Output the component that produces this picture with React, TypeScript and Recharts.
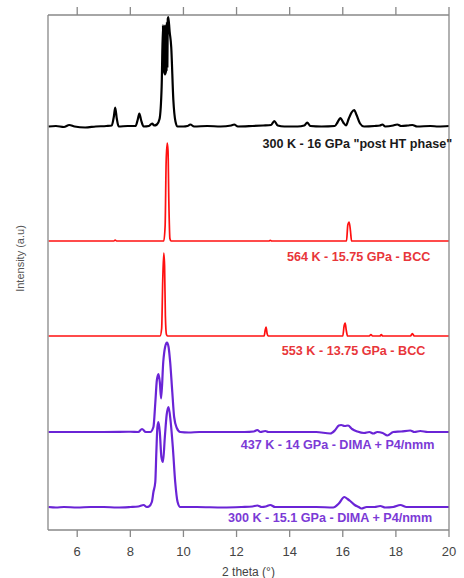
import React from "react";
import { LineChart, Line, XAxis, YAxis, ReferenceDot } from "recharts";

// 2 theta axis ticks
const twoThetaTicks = [6, 8, 10, 12, 14, 16, 18, 20];

// each trace: [2 theta (deg), intensity above its own baseline (a.u.)]
const post300K16GPa: [number, number][] = [
  [4.92, 0], [5.2, 0.1], [5.5, -0.1], [5.7, 0.3], [5.9, 0], [6.3, -0.2], [6.7, 0], [7.1, 0.1],
  [7.3, 0.2], [7.38, 2], [7.43, 3.8], [7.49, 1.6], [7.56, 0], [7.9, 0.1], [8.2, 0.1], [8.28, 1.4],
  [8.34, 2.6], [8.41, 1.2], [8.5, 0], [8.7, 0.1], [8.82, 0.6], [8.9, 0.2], [9.0, 0.4], [9.1, 1.5],
  [9.18, 8], [9.23, 20.3], [9.245, 11], [9.26, 20], [9.275, 10.5], [9.29, 20.2], [9.305, 10.3],
  [9.32, 20], [9.335, 10.5], [9.35, 20.5], [9.365, 11], [9.38, 21], [9.395, 12], [9.41, 21.5],
  [9.43, 21.9], [9.48, 19], [9.54, 15.9], [9.62, 5.3], [9.7, 1], [9.78, 0], [10.0, 0],
  [10.15, 0.1], [10.26, 0.4], [10.4, 0], [10.9, 0.1], [11.4, 0], [11.8, 0.2], [11.91, 0.4],
  [12.05, 0], [12.6, 0.1], [13.0, 0.2], [13.3, 0.3], [13.42, 1.1], [13.55, 0.2], [13.8, 0],
  [14.3, 0], [14.55, 0.2], [14.66, 0.8], [14.78, 0.1], [15.2, 0], [15.7, 0.1], [15.8, 0.8],
  [15.91, 1.7], [16.02, 0.8], [16.12, 0.2], [16.22, 1.5], [16.33, 2.8], [16.43, 3.3], [16.52, 2.3],
  [16.65, 0.6], [16.8, 0], [17.2, 0.1], [17.4, 0.2], [17.49, 0.4], [17.6, 0], [17.9, 0.2],
  [18.05, 0.4], [18.2, 0.1], [18.45, 0.2], [18.62, 0.3], [18.8, 0], [19.3, 0.1], [19.6, 0], [20, 0.1],
];

const bcc564K: [number, number][] = [
  [4.92, 0], [7.38, 0], [7.43, 0.2], [7.48, 0], [9.26, 0], [9.31, 3], [9.35, 16], [9.39, 19.6],
  [9.42, 18], [9.45, 8], [9.49, 0.5], [9.53, 0], [13.22, 0], [13.27, 0.15], [13.32, 0], [16.14, 0],
  [16.19, 3.2], [16.24, 3.8], [16.29, 2], [16.33, 0], [20, 0],
];

const bcc553K: [number, number][] = [
  [4.92, 0], [9.12, 0], [9.18, 1.5], [9.22, 11], [9.26, 16.6], [9.29, 14], [9.32, 4], [9.36, 0.3],
  [9.4, 0], [13.04, 0], [13.08, 1.2], [13.11, 1.8], [13.15, 0.5], [13.19, 0], [16.0, 0],
  [16.05, 2], [16.09, 2.6], [16.13, 1.2], [16.18, 0], [17.0, 0], [17.06, 0.3], [17.12, 0],
  [17.4, 0], [17.45, 0.3], [17.5, 0], [18.55, 0], [18.62, 0.5], [18.69, 0], [20, 0],
];

const dima437K: [number, number][] = [
  [4.92, 0], [7.0, 0], [8.0, 0.05], [8.3, 0], [8.44, 0.6], [8.58, 0], [8.75, 0], [8.87, 1],
  [8.94, 5.8], [9.0, 10.4], [9.06, 11.6], [9.11, 10], [9.16, 6.7], [9.24, 14], [9.31, 17],
  [9.38, 17.9], [9.44, 17], [9.5, 14], [9.58, 8], [9.65, 3], [9.75, 0.8], [9.88, 0], [10.2, -0.1],
  [10.6, 0], [11.2, 0], [12.3, 0], [12.65, 0.1], [12.78, 0.4], [12.9, 0], [13.08, 0.2], [13.2, 0],
  [14.0, 0], [15.0, 0], [15.53, -0.3], [15.7, 0.3], [15.85, 1.3], [15.94, 1.4], [16.07, 1.2],
  [16.2, 1.3], [16.35, 0.6], [16.55, 0.1], [16.8, -0.2], [17.0, 0], [17.15, -0.3], [17.3, 0],
  [17.5, -0.2], [17.68, -0.7], [17.9, 0], [18.2, 0.1], [18.54, 0.3], [18.7, 0], [18.92, 0.2],
  [19.2, 0], [19.6, 0], [20, 0],
];

const dima300K: [number, number][] = [
  [4.92, 0], [5.2, -0.1], [5.5, 0], [6.0, -0.1], [6.5, 0], [7.0, 0], [7.5, -0.1], [8.0, 0],
  [8.3, 0.1], [8.5, 0.4], [8.62, 0], [8.7, 0.1], [8.81, 1], [8.87, 3], [8.94, 5], [8.98, 11],
  [9.02, 16], [9.06, 17], [9.11, 15], [9.17, 10], [9.23, 9], [9.3, 14], [9.37, 18.5], [9.44, 20],
  [9.52, 17], [9.6, 12], [9.69, 5], [9.78, 1], [9.88, 0], [10.5, 0], [11.5, -0.1], [12.2, 0],
  [12.6, 0.1], [12.78, 0.3], [12.95, 0], [13.1, 0.1], [13.27, 0.4], [13.45, 0], [14.2, 0],
  [15.0, 0], [15.64, -0.1], [15.85, 0.7], [16.06, 2], [16.18, 1.6], [16.28, 1.2], [16.45, 0.4],
  [16.6, 0], [16.7, -0.3], [16.9, 0], [17.2, 0], [17.41, 0.2], [17.6, -0.1], [17.9, 0],
  [18.17, 0.4], [18.4, 0], [18.8, 0], [19.3, 0], [20, 0],
];

// stacking offsets (a.u.) and captions
const traceNames = [
  '300 K - 16 GPa "post HT phase"',
  "564 K - 15.75 GPa - BCC",
  "553 K - 13.75 GPa - BCC",
  "437 K - 14 GPa - DIMA + P4/nmm",
  "300 K - 15.1 GPa - DIMA + P4/nmm",
];
const traceOffsets = [80.7, 57.8, 38.8, 19.6, 4.6];
const traceValues = [post300K16GPa, bcc564K, bcc553K, dima437K, dima300K];

const lineColors = ["#000000", "#ff1010", "#ff1010", "#6a24d6", "#6a24d6"];
const textColors = ["#1a1a1a", "#e8363a", "#e8363a", "#7b3ad6", "#7b3ad6"];
const lineWidths = [2.2, 1.7, 1.7, 2.2, 2.2];
// caption anchor: right end of text, vertical middle
const captionPos: [number, number][] = [
  [20.12, 77.2],
  [19.3, 54.6],
  [19.11, 35.8],
  [19.45, 17],
  [19.37, 2.4],
];

const AXIS = "#888888";
const FONT = "Liberation Sans, Arial, sans-serif";

export default function App() {
  const series = traceValues.map((pts, i) =>
    pts.map(([x, y]) => ({ x, y: y + traceOffsets[i] }))
  );

  return (
    <div style={{ position: "fixed", left: 0, top: 0, background: "#fff" }}>
      <LineChart width={464} height={578} margin={{ top: 0, right: 0, bottom: 0, left: 0 }}>
        <XAxis
          dataKey="x"
          type="number"
          domain={[4.9, 20]}
          ticks={twoThetaTicks}
          allowDataOverflow
          height={48}
          stroke={AXIS}
          strokeWidth={1.3}
          tickSize={7}
          tickMargin={10}
          tick={{ fill: "#444", fontSize: 13, fontFamily: FONT }}
          label={{
            value: "2 theta (°)",
            position: "insideBottom",
            offset: 2,
            fill: "#444",
            fontSize: 12,
            fontFamily: FONT,
          }}
        />
        <XAxis
          xAxisId="top"
          orientation="top"
          dataKey="x"
          type="number"
          domain={[4.9, 20]}
          ticks={twoThetaTicks}
          allowDataOverflow
          height={15}
          stroke={AXIS}
          strokeWidth={1.3}
          tickSize={8}
          tickFormatter={() => ""}
        />
        <YAxis
          type="number"
          domain={[0, 103]}
          allowDataOverflow
          width={48}
          stroke={AXIS}
          strokeWidth={1.3}
          tick={false}
          tickLine={false}
          label={{
            value: "Intensity (a.u)",
            angle: -90,
            position: "center",
            dx: -4,
            dy: -14,
            fill: "#555",
            fontSize: 11,
            fontFamily: FONT,
          }}
        />
        <YAxis
          yAxisId="right"
          orientation="right"
          type="number"
          domain={[0, 103]}
          width={15}
          stroke={AXIS}
          strokeWidth={1.3}
          tick={false}
          tickLine={false}
        />
        {series.map((data, i) => (
          <Line
            key={traceNames[i]}
            data={data}
            dataKey="y"
            type="monotone"
            stroke={lineColors[i]}
            strokeWidth={lineWidths[i]}
            dot={false}
            activeDot={false}
            isAnimationActive={false}
          />
        ))}
        {traceNames.map((name, i) => (
          <ReferenceDot
            key={"lbl" + i}
            x={captionPos[i][0]}
            y={captionPos[i][1]}
            r={0}
            fill="none"
            stroke="none"
            ifOverflow="visible"
            label={{
              value: name,
              position: "left",
              offset: 0,
              fill: textColors[i],
              fontSize: 12.6,
              fontWeight: "bold",
              fontFamily: FONT,
            }}
          />
        ))}
      </LineChart>
    </div>
  );
}
